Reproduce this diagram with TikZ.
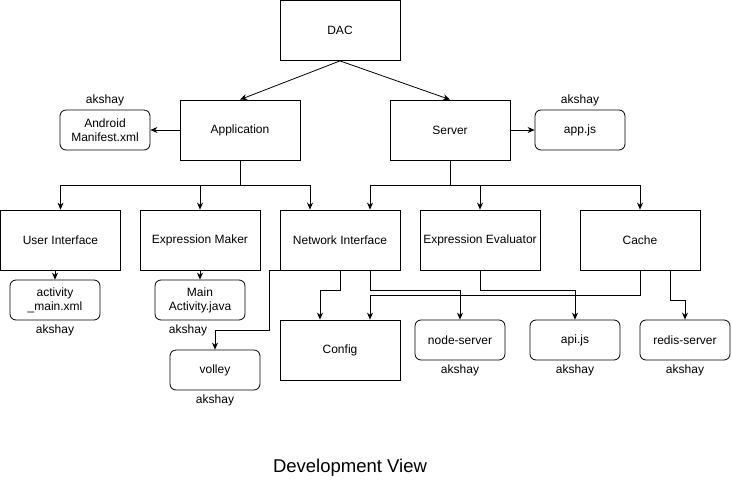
\documentclass[tikz,border=0pt]{standalone}
\usepackage{fontspec}
\setmainfont{Liberation Sans}
\usetikzlibrary{positioning, arrows.meta}

\begin{document}
\begin{tikzpicture}[x=1pt, y=-1pt,
  modbox/.style={draw, rectangle, line width=0.8pt, minimum width=120pt,
                 minimum height=60pt, inner sep=2pt, font=\fontsize{12}{14}\selectfont},
  filebox/.style={draw, rectangle, rounded corners=6pt, line width=0.8pt,
                  minimum width=90pt, minimum height=40pt, align=center,
                  inner sep=2pt, font=\fontsize{12}{14}\selectfont},
  owner/.style={font=\fontsize{12}{14}\selectfont, inner sep=1pt},
  link/.style={line width=0.8pt, -{Stealth[length=7pt, width=6pt]}}
]
\useasboundingbox (0,0) rectangle (732,487);

\node[modbox] (dac) at (340,30.5) {DAC};
\node[modbox] (app) at (240,130) {Application};
\node[modbox] (srv) at (450,130) {Server};

\node[filebox] (manifest) at (105,130) {Android\\Manifest.xml};
\node[owner, above=2pt of manifest] (ownmanifest) {akshay};
\node[filebox] (appjs) at (580,130) {app.js};
\node[owner, above=2pt of appjs] (ownappjs) {akshay};

\node[modbox] (ui) at (60.5,240) {User Interface};
\node[modbox] (em) at (200,240) {Expression Maker};
\node[modbox] (ni) at (340,240) {Network Interface};
\node[modbox] (ee) at (480,240) {Expression Evaluator};
\node[modbox] (cache) at (640,240) {Cache};

\node[filebox] (activity) at (55,300) {activity\\\_main.xml};
\node[owner, below=3pt of activity] (ownactivity) {akshay};
\node[filebox] (mainact) at (200,300) {Main\\Activity.java};
\node[owner, below=3pt of mainact, xshift=-12pt] (ownmainact) {akshay};
\node[filebox] (volley) at (215,370) {volley};
\node[owner, below=3pt of volley] (ownvolley) {akshay};

\node[modbox] (config) at (340,350) {Config};
\node[filebox] (nodesrv) at (460,340) {node-server};
\node[owner, below=3pt of nodesrv] (ownnodesrv) {akshay};
\node[filebox] (api) at (575,340) {api.js};
\node[owner, below=3pt of api] (ownapi) {akshay};
\node[filebox] (redis) at (685,340) {redis-server};
\node[owner, below=3pt of redis] (ownredis) {akshay};

\node[font=\fontsize{18.5}{20}\selectfont] (title) at (350,468) {Development View};

\draw[link] (dac.south) -- (app.north);
\draw[link] (dac.south) -- (srv.north);
\draw[link] (app.west) -- (manifest.east);
\draw[link] (srv.east) -- (appjs.west);

\draw[link] (app.south) -- ++(0,25) -| (ui.north);
\draw[link] (app.south) -- ++(0,25) -| (em.north);
\draw[link] (app.south) -- ++(0,25) -| ([xshift=-30pt]ni.north);
\draw[link] (srv.south) -- ++(0,25) -| ([xshift=30pt]ni.north);
\draw[link] (srv.south) -- ++(0,25) -| (ee.north);
\draw[link] (srv.south) -- ++(0,25) -| (cache.north);

\draw[link] (activity.north |- ui.south) -- (activity.north);
\draw[link] (em.south) -- (mainact.north);
\draw[link] (ni.south west) -- ++(-10,0) -- ++(0,60) -| (volley.north);
\draw[link] (ni.south) -- ++(0,20) -| ([xshift=-20pt]config.north);
\draw[link] ([xshift=30pt]ni.south) -- ++(0,20) -| (nodesrv.north);
\draw[link] (ee.south) -- ++(0,20) -| (api.north);
\draw[link] (cache.south) -- ++(0,25) -| ([xshift=30pt]config.north);
\draw[link] ([xshift=30pt]cache.south) -- ++(0,30) -| (redis.north);

\end{tikzpicture}
\end{document}
